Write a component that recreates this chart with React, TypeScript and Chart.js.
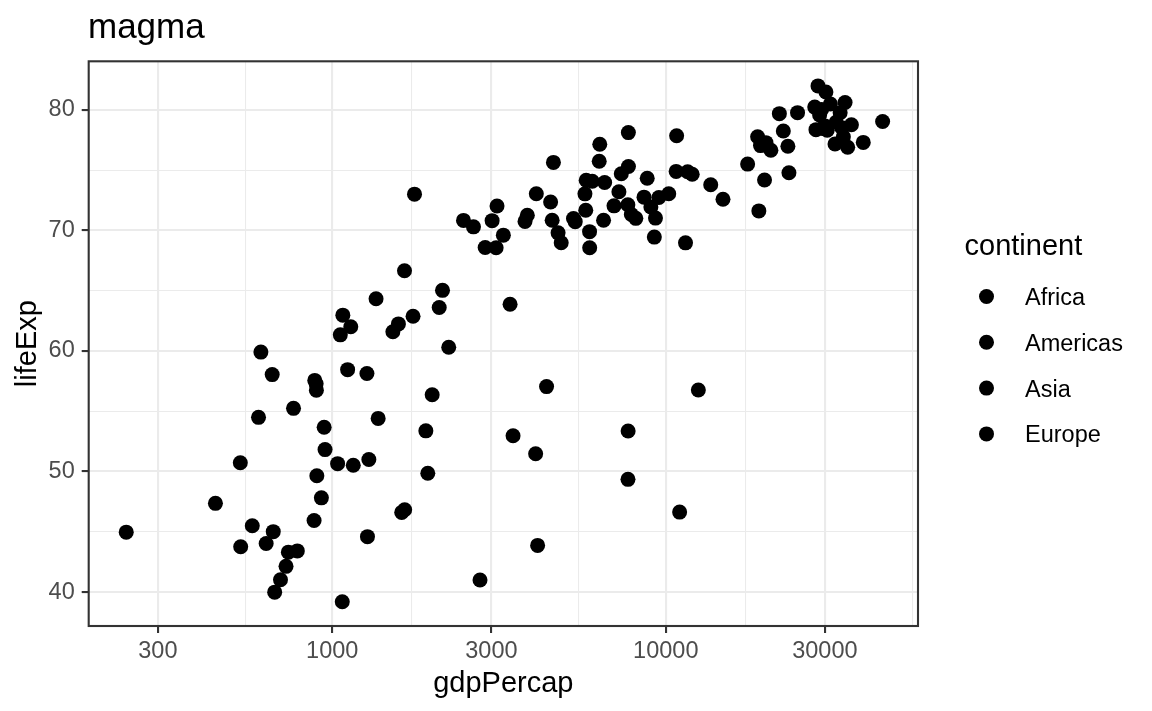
import React, { useEffect, useRef } from "react";
import { Chart, registerables } from "chart.js";

Chart.register(...registerables);

// gapminder, year 2002 (Oceania not shown)
const continents = ["Africa", "Americas", "Asia", "Europe"];

const africaGdp = [5288.04, 2773.29, 1372.88, 11003.61, 1037.65, 446.4, 1934.01, 738.69, 1156.18, 1075.81, 241.17, 3484.06, 1648.8, 1908.26, 4754.6, 7703.5, 765.35, 530.05, 12521.71, 660.59, 1111.98, 945.58, 575.7, 1287.51, 1275.18, 531.48, 9534.68, 894.64, 665.42, 951.41, 1579.02, 9021.82, 3258.5, 633.62, 4072.32, 601.07, 1615.29, 6316.17, 785.65, 1353.09, 1519.64, 699.49, 882.08, 7710.95, 1993.4, 4128.12, 899.07, 886.22, 5722.9, 927.72, 1071.61, 672.04];
const africaLife = [70.994, 41.003, 54.406, 46.634, 50.65, 47.36, 49.856, 43.308, 50.525, 62.974, 44.966, 52.97, 46.832, 53.373, 69.806, 49.348, 55.24, 50.725, 56.761, 58.041, 58.453, 53.676, 45.504, 50.992, 44.593, 43.753, 72.737, 57.286, 45.009, 51.818, 62.247, 71.954, 69.615, 44.026, 51.479, 54.496, 46.608, 75.744, 43.413, 64.337, 61.6, 41.012, 45.936, 53.365, 56.369, 43.869, 49.651, 57.561, 73.042, 47.813, 39.193, 39.989];

const americasGdp = [8797.64, 3413.26, 8131.21, 33328.97, 10778.78, 5755.26, 7723.45, 6340.65, 4563.81, 5773.04, 5351.57, 4858.35, 1270.36, 3099.73, 6994.77, 10742.44, 2474.55, 7356.03, 3783.67, 5909.02, 18855.61, 11460.6, 39097.1, 7727.0, 8605.05];
const americasLife = [74.34, 63.883, 71.006, 79.77, 77.86, 71.682, 78.123, 77.158, 70.847, 74.173, 70.734, 68.978, 58.137, 68.565, 72.047, 74.902, 70.836, 74.712, 70.755, 69.906, 77.778, 68.976, 77.31, 75.307, 72.766];

const asiaGdp = [726.73, 23403.56, 1136.39, 896.23, 3119.28, 30209.02, 1746.77, 2873.91, 9240.76, 4390.72, 21905.6, 28604.59, 3844.92, 1646.76, 19233.99, 35110.11, 9313.94, 10206.98, 2140.74, 611.0, 1057.21, 19774.84, 2092.71, 2650.92, 19014.54, 36023.11, 3015.38, 4090.93, 23235.42, 5913.19, 1764.46, 4515.49, 2234.82];
const asiaLife = [42.129, 74.795, 62.013, 56.752, 72.028, 81.495, 62.879, 68.588, 69.451, 57.046, 79.696, 82.0, 71.263, 66.662, 77.045, 76.904, 71.028, 73.044, 65.033, 59.908, 61.34, 74.193, 63.61, 70.303, 71.626, 78.77, 70.815, 73.053, 76.99, 68.564, 73.017, 72.37, 60.308];

const europeGdp = [4604.21, 32417.61, 30485.88, 6018.98, 7696.78, 11628.39, 17596.21, 32166.5, 28204.59, 28926.03, 30035.8, 22514.25, 14843.94, 31163.2, 34077.05, 27968.1, 6557.19, 33724.76, 44683.98, 12002.24, 19970.91, 7885.36, 7236.08, 13638.78, 20660.02, 24835.47, 29341.63, 34480.96, 6508.09, 29479.0];
const europeLife = [75.651, 78.98, 78.32, 74.09, 72.14, 74.876, 75.51, 77.18, 78.37, 79.59, 78.67, 78.256, 72.59, 80.5, 77.783, 80.24, 73.981, 78.53, 79.05, 74.67, 77.29, 71.322, 73.213, 73.8, 76.66, 79.78, 80.04, 80.62, 70.845, 78.471];

const xBreaks = [300, 1000, 3000, 10000, 30000];
const xMinorBreaks = [547.7, 1732.1, 5477.2, 17320.5, 54772.3];
const yBreaks = [40, 50, 60, 70, 80];
const yMinorBreaks = [45, 55, 65, 75];
const xLimits = [186.1, 57050];
const yLimits = [37.18, 84.04];

const TITLE = "magma";
const X_TITLE = "gdpPercap";
const Y_TITLE = "lifeExp";
const LEGEND_TITLE = "continent";

const FONT = '"Liberation Sans", Arial, Helvetica, sans-serif';
const GRID = "#EBEBEB";
const DARK = "#333333";
const TICK_TEXT = "#4D4D4D";

const seriesGdp = [africaGdp, americasGdp, asiaGdp, europeGdp];
const seriesLife = [africaLife, americasLife, asiaLife, europeLife];

const decorPlugin = {
  id: "decor",
  afterDraw(chart: any) {
    const { ctx, chartArea: a } = chart;
    ctx.save();
    // panel border
    ctx.strokeStyle = DARK;
    ctx.lineWidth = 2.1;
    ctx.strokeRect(a.left, a.top, a.right - a.left, a.bottom - a.top);
    // title
    ctx.fillStyle = "#000000";
    ctx.textAlign = "left";
    ctx.textBaseline = "alphabetic";
    ctx.font = `35px ${FONT}`;
    ctx.fillText(TITLE, 88, 38);
    // legend
    ctx.font = `29px ${FONT}`;
    ctx.fillText(LEGEND_TITLE, 964.5, 255);
    ctx.font = `23.5px ${FONT}`;
    chart.data.datasets.forEach((ds: any, i: number) => {
      const cy = 296.5 + i * 45.8;
      ctx.beginPath();
      ctx.arc(986.5, cy, 7.5, 0, Math.PI * 2);
      ctx.fillStyle = "#000000";
      ctx.fill();
      ctx.fillText(ds.label, 1025, cy + 8.4);
    });
    ctx.restore();
  },
};

const isIn = (v: number, arr: number[]) => arr.some((b) => Math.abs(b - v) < 1e-6);

export default function App() {
  const ref = useRef<HTMLCanvasElement | null>(null);

  useEffect(() => {
    document.body.style.margin = "0";
    const canvas = ref.current;
    if (!canvas) return;
    const datasets = continents.map((name, i) => ({
      label: name,
      data: seriesGdp[i].map((g, j) => ({ x: g, y: seriesLife[i][j] })),
      backgroundColor: "#000000",
      borderWidth: 0,
      pointRadius: 7.5,
      pointHoverRadius: 7.5,
    }));

    const chart = new Chart(canvas, {
      type: "scatter",
      data: { datasets },
      options: {
        animation: false,
        responsive: false,
        devicePixelRatio: 1,
        layout: { padding: { top: 61.3, right: 234, left: 0, bottom: 0 } },
        plugins: {
          legend: { display: false },
          tooltip: { enabled: false },
          title: { display: false },
        },
        scales: {
          x: {
            type: "logarithmic",
            position: "bottom",
            min: xLimits[0],
            max: xLimits[1],
            afterBuildTicks: (scale: any) => {
              scale.ticks = [...xBreaks, ...xMinorBreaks]
                .sort((p, q) => p - q)
                .map((v) => ({ value: v }));
            },
            afterFit: (scale: any) => {
              scale.height = 85;
            },
            border: { display: false },
            grid: {
              color: GRID,
              lineWidth: (c: any) => (c.tick && isIn(c.tick.value, xBreaks) ? 2.1 : 1.07),
              tickColor: (c: any) => (c.tick && isIn(c.tick.value, xBreaks) ? DARK : "rgba(0,0,0,0)"),
              tickWidth: 2.1,
              tickLength: 7,
              drawTicks: true,
            },
            ticks: {
              autoSkip: false,
              maxRotation: 0,
              minRotation: 0,
              padding: 4,
              color: TICK_TEXT,
              font: { family: FONT, size: 23.5 },
              callback: (v: any) => (isIn(Number(v), xBreaks) ? String(v) : ""),
            },
            title: {
              display: true,
              text: X_TITLE,
              color: "#000000",
              font: { family: FONT, size: 29 },
              padding: { top: 0, bottom: 10 },
            },
          },
          y: {
            type: "linear",
            position: "left",
            min: yLimits[0],
            max: yLimits[1],
            afterBuildTicks: (scale: any) => {
              scale.ticks = [...yBreaks, ...yMinorBreaks]
                .sort((p, q) => p - q)
                .map((v) => ({ value: v }));
            },
            afterFit: (scale: any) => {
              scale.width = 88.7;
            },
            border: { display: false },
            grid: {
              color: GRID,
              lineWidth: (c: any) => (c.tick && isIn(c.tick.value, yBreaks) ? 2.1 : 1.07),
              tickColor: (c: any) => (c.tick && isIn(c.tick.value, yBreaks) ? DARK : "rgba(0,0,0,0)"),
              tickWidth: 2.1,
              tickLength: 7,
              drawTicks: true,
            },
            ticks: {
              autoSkip: false,
              padding: 7,
              color: TICK_TEXT,
              font: { family: FONT, size: 23.5 },
              callback: (v: any) => (isIn(Number(v), yBreaks) ? String(v) : ""),
            },
            title: {
              display: true,
              text: Y_TITLE,
              color: "#000000",
              font: { family: FONT, size: 29 },
              padding: { top: 10.6, bottom: 0 },
            },
          },
        },
      },
      plugins: [decorPlugin],
    } as any);

    return () => chart.destroy();
  }, []);

  return (
    <div style={{ position: "absolute", left: 0, top: 0, width: 1152, height: 711, background: "#ffffff" }}>
      <canvas ref={ref} width={1152} height={711} style={{ width: 1152, height: 711, display: "block" }} />
    </div>
  );
}
